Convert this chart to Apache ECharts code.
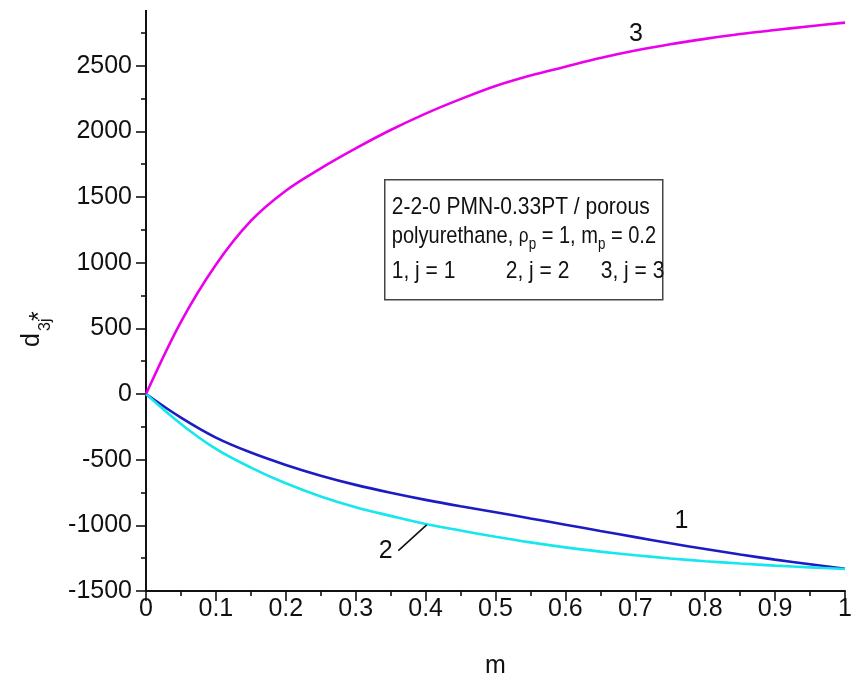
<!DOCTYPE html>
<html>
<head>
<meta charset="utf-8">
<script src="https://cdn.jsdelivr.net/npm/echarts@6/dist/echarts.min.js"></script>
<style>
  html, body { margin: 0; padding: 0; background: #fff; }
  #main { width: 856px; height: 695px; }
</style>
</head>
<body>
<div id="main"></div>
<script>
// m values and d*3j curves
const mValues = [0, 0.05, 0.1, 0.15, 0.2, 0.25, 0.3, 0.35, 0.4, 0.45, 0.5, 0.55, 0.6, 0.65, 0.7, 0.75, 0.8, 0.85, 0.9, 0.95, 1];
const d31 = [0, -180, -332, -446, -540, -622, -692, -752, -806, -855, -900, -948, -995, -1043, -1090, -1137, -1180, -1222, -1261, -1296, -1330];
const d32 = [0, -228, -418, -560, -680, -780, -862, -928, -990, -1040, -1087, -1130, -1168, -1200, -1228, -1252, -1273, -1291, -1307, -1320, -1332];
const d33 = [0, 550, 985, 1318, 1548, 1718, 1870, 2010, 2135, 2245, 2345, 2425, 2492, 2558, 2615, 2663, 2704, 2741, 2771, 2800, 2828];

// curve number labels, in data coords
const curveLabels = [
  { text: '1', at: [0.766, -967] },
  { text: '2', at: [0.343, -1193] },
  { text: '3', at: [0.701, 2739] }
];
const leader2 = [[0.361, -1193], [0.4015, -997]];

const FONT = '"Liberation Sans", Arial, sans-serif';

const pair = ys => mValues.map((m, i) => [m, ys[i]]);

const chart = echarts.init(document.getElementById('main'));

const lineSeries = (name, ys, color) => ({
  name: name,
  type: 'line',
  data: pair(ys),
  symbol: 'none',
  smooth: 0.35,
  lineStyle: { color: color, width: 2.6 },
  itemStyle: { color: color },
  silent: true
});

const tickStyle = { color: '#111', width: 1.6 };

chart.setOption({
  animation: false,
  backgroundColor: '#fff',
  grid: { left: 146, right: 11, top: -6, bottom: 104 },
  xAxis: {
    type: 'value',
    min: 0, max: 1, interval: 0.1,
    name: 'm',
    nameLocation: 'middle',
    nameGap: 63,
    nameTextStyle: { fontFamily: FONT, fontSize: 25, color: '#111' },
    axisLine: { onZero: false, lineStyle: { color: '#111', width: 2 } },
    axisTick: { show: true, length: 10, lineStyle: tickStyle },
    minorTick: { show: true, splitNumber: 2, length: 5, lineStyle: tickStyle },
    splitLine: { show: false },
    axisLabel: { fontFamily: FONT, fontSize: 25, color: '#111', margin: 6 }
  },
  yAxis: {
    type: 'value',
    min: -1500, max: 3000, interval: 500,
    axisLine: { onZero: false, lineStyle: { color: '#111', width: 2 } },
    axisTick: { show: true, length: 10, lineStyle: tickStyle },
    minorTick: { show: true, splitNumber: 2, length: 5, lineStyle: tickStyle },
    splitLine: { show: false },
    axisLabel: {
      fontFamily: FONT, fontSize: 25, color: '#111', margin: 14,
      showMaxLabel: false,
      formatter: v => String(v)
    }
  },
  series: [
    lineSeries('1', d31, '#1c1cc4'),
    lineSeries('2', d32, '#16e6ee'),
    lineSeries('3', d33, '#ec00ec')
  ]
});

// annotations placed from data coords
const px = p => chart.convertToPixel({ gridIndex: 0 }, p);
const annotations = curveLabels.map(l => {
  const p = px(l.at);
  return {
    type: 'text', x: p[0], y: p[1], z: 10,
    style: { text: l.text, font: '25px ' + FONT, fill: '#111', align: 'center', verticalAlign: 'middle' }
  };
});
const a = px(leader2[0]), b = px(leader2[1]);
annotations.push({
  type: 'line', z: 10,
  shape: { x1: a[0], y1: a[1], x2: b[0], y2: b[1] },
  style: { stroke: '#111', lineWidth: 1.6 }
});

const legendText = (text, x, y, size, extra) => Object.assign({
  type: 'text', x: x, y: y, scaleY: 1.15, originX: 0, originY: 0,
  style: { text: text, font: size + 'px ' + FONT, fill: '#111', verticalAlign: 'bottom' }
}, extra || {});

chart.setOption({
  graphic: annotations.concat([
    // hide axis part above the original frame top
    { type: 'rect', left: 120, top: 0, z: 20, shape: { width: 40, height: 10 }, style: { fill: '#fff' } },
    // y axis name d*3j
    {
      type: 'group', x: 45, y: 347, rotation: Math.PI / 2, z: 10,
      children: [
        { type: 'text', x: 0, y: 0, style: { text: 'd', font: '25px ' + FONT, fill: '#111', verticalAlign: 'bottom' } },
        { type: 'text', x: 16, y: 9, style: { text: '3j', font: '16px ' + FONT, fill: '#111', verticalAlign: 'bottom' } },
        { type: 'text', x: 26, y: 8, style: { text: '*', font: '25px ' + FONT, fill: '#111', verticalAlign: 'bottom' } }
      ]
    },
    // legend box
    {
      type: 'group', left: 384, top: 179, z: 10,
      children: [
        { type: 'rect', shape: { x: 0, y: 0, width: 278, height: 120 }, style: { fill: '#fff', stroke: '#444', lineWidth: 1.5 } },
        legendText('2-2-0 PMN-0.33PT / porous', 7, 40, 21),
        legendText('', 7, 73, 21, {
          scaleX: 0.955,
          style: {
            text: '{n|polyurethane, }{g|ρ}{s|p}{n| = 1, m}{s|p}{n| = 0.2}',
            verticalAlign: 'bottom',
            rich: {
              n: { font: '21px ' + FONT, fill: '#111', lineHeight: 28, verticalAlign: 'middle' },
              g: { font: '18px ' + FONT, fill: '#111', lineHeight: 28, verticalAlign: 'middle' },
              s: { font: '14px ' + FONT, fill: '#111', lineHeight: 12, verticalAlign: 'bottom' }
            }
          }
        }),
        legendText('1, j = 1', 7, 104, 21),
        legendText('2, j = 2', 121, 104, 21),
        legendText('3, j = 3', 216, 104, 21)
      ]
    }
  ])
});
</script>
</body>
</html>
